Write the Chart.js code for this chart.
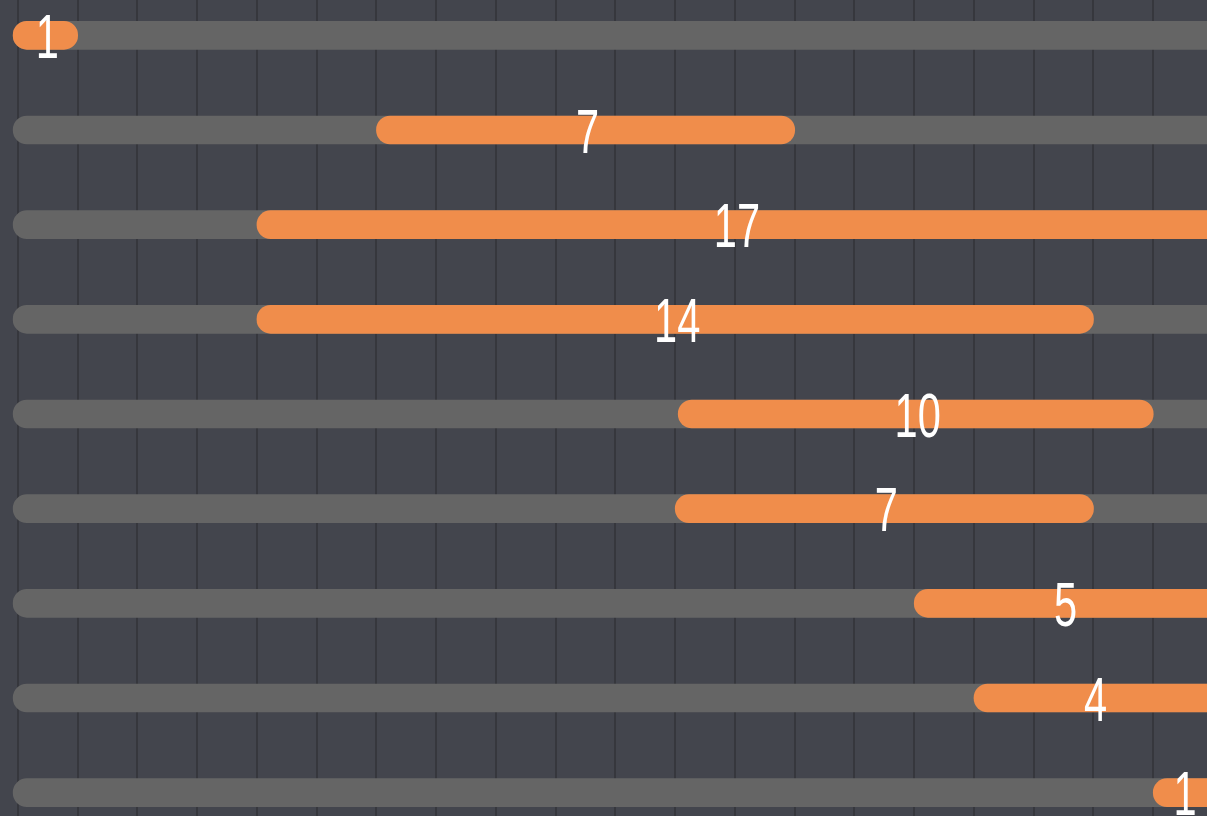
<!DOCTYPE html>
<html>
<head>
<meta charset="utf-8">
<script src="https://cdn.jsdelivr.net/npm/chart.js@4/dist/chart.umd.min.js"></script>
<style>
  html, body { margin: 0; padding: 0; background: #43454d; overflow: hidden; width: 1207px; height: 816px; }
  #wrap { position: absolute; left: 0; top: -12px; }
</style>
</head>
<body>
<div id="wrap"><canvas id="gantt" width="1213" height="852"></canvas></div>
<script>
// linhas do gráfico (uma por tarefa)
const rows = ['t1', 't2', 't3', 't4', 't5', 't6', 't7', 't8', 't9'];
// início e fim de cada barra laranja (em unidades do eixo x)
const taskStart = [-0.08, 6, 4, 4, 11.05, 11, 15, 16, 19];
const taskEnd = [1, 13, 21, 18, 19, 18, 21, 21, 21];
// números mostrados sobre as barras
const taskLabels = [1, 7, 17, 14, 10, 7, 5, 4, 1];
// faixa cinza de fundo
const trackStart = -0.08;
const trackEnd = 21;

// plugin simples para escrever os números no centro da parte visível da barra
const barLabels = {
    id: 'barLabels',
    afterDatasetsDraw(chart) {
        const ctx = chart.ctx;
        const area = chart.chartArea;
        const meta = chart.getDatasetMeta(0);
        ctx.save();
        ctx.fillStyle = '#ffffff';
        ctx.font = '63px "Liberation Sans Narrow", "Liberation Sans", sans-serif';
        ctx.textAlign = 'center';
        ctx.textBaseline = 'alphabetic';
        meta.data.forEach((bar, i) => {
            const left = Math.max(area.left, Math.min(bar.x, bar.base));
            const right = Math.min(area.right, Math.max(bar.x, bar.base));
            const cx = (left + right) / 2;
            ctx.save();
            ctx.translate(cx + 2, bar.y + 22.5);
            ctx.scale(0.66, 1);
            ctx.fillText(String(taskLabels[i]), 0, 0);
            ctx.restore();
        });
        ctx.restore();
    }
};

const ctx = document.getElementById('gantt').getContext('2d');
const chart = new Chart(ctx, {
    type: 'bar',
    data: {
        labels: rows,
        datasets: [
            {
                label: 'tarefas',
                data: rows.map((r, i) => [taskStart[i], taskEnd[i]]),
                backgroundColor: '#f08d4b',
                barThickness: 28,
                borderRadius: 14,
                borderSkipped: false,
                grouped: false
            },
            {
                label: 'faixa',
                data: rows.map(() => [trackStart, trackEnd]),
                backgroundColor: '#656565',
                barThickness: 28,
                borderRadius: 14,
                borderSkipped: false,
                grouped: false
            }
        ]
    },
    options: {
        indexAxis: 'y',
        responsive: false,
        animation: false,
        devicePixelRatio: 1,
        layout: { padding: 0 },
        plugins: {
            legend: { display: false },
            tooltip: { enabled: false }
        },
        scales: {
            x: {
                type: 'linear',
                min: -0.3,
                max: 20,
                ticks: { display: false, stepSize: 1 },
                afterBuildTicks: (scale) => {
                    // uma linha de grade em cada unidade inteira, incluindo o zero
                    const ticks = [];
                    for (let v = Math.ceil(scale.min); v <= Math.floor(scale.max); v++) ticks.push({ value: v });
                    scale.ticks = ticks;
                },
                grid: { color: '#36373d', lineWidth: 2, drawTicks: false },
                border: { display: false }
            },
            y: {
                ticks: { display: false },
                grid: { display: false, drawTicks: false },
                border: { display: false }
            }
        }
    },
    plugins: [barLabels]
});
</script>
</body>
</html>
